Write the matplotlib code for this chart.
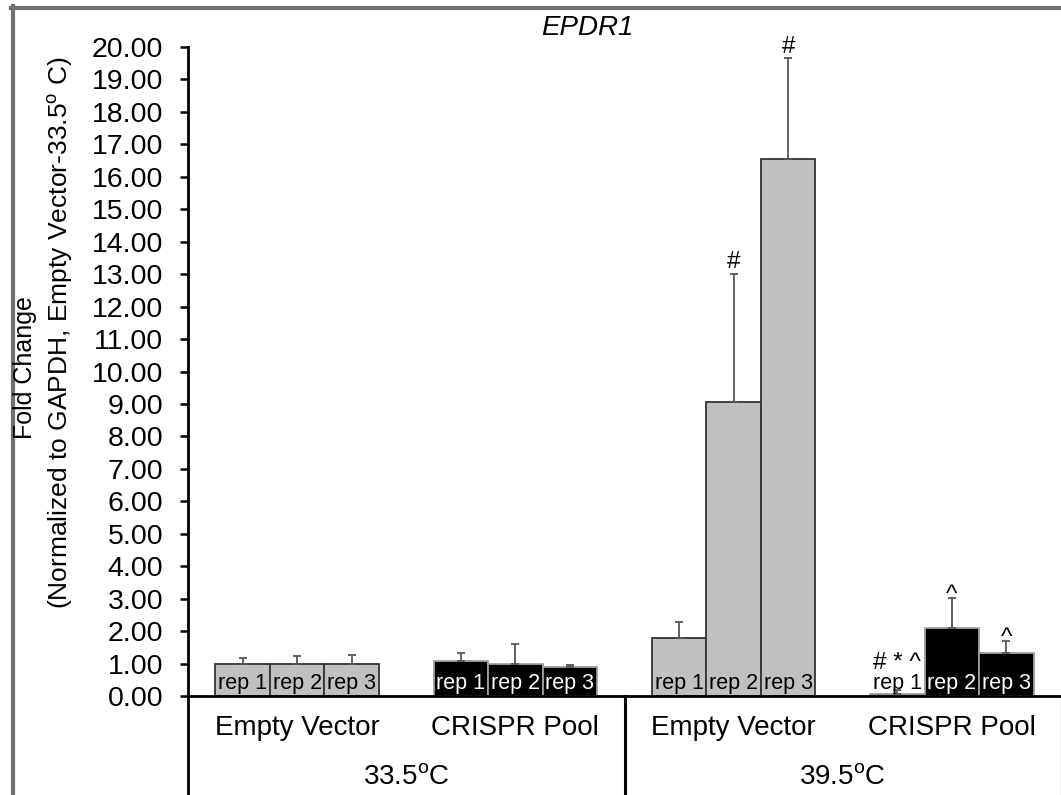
import matplotlib
matplotlib.use("Agg")
import matplotlib.pyplot as plt
from matplotlib.lines import Line2D
import numpy as np

plt.rcParams["font.family"] = ["Liberation Sans", "DejaVu Sans"]
plt.rcParams["mathtext.fontset"] = "custom"
plt.rcParams["mathtext.rm"] = "Liberation Sans"
plt.rcParams["mathtext.it"] = "Liberation Sans:italic"

# --- data -------------------------------------------------------------
groups = ["Empty Vector", "CRISPR Pool", "Empty Vector", "CRISPR Pool"]
temperatures = ["33.5$^{\\mathrm{o}}$C", "39.5$^{\\mathrm{o}}$C"]
replicates = ["rep 1", "rep 2", "rep 3"]

ev_33 = [1.00, 1.00, 1.00]
ev_33_err = [0.18, 0.22, 0.27]
cp_33 = [1.08, 0.98, 0.89]
cp_33_err = [0.25, 0.62, 0.06]
ev_39 = [1.79, 9.06, 16.55]
ev_39_err = [0.49, 3.94, 3.10]
cp_39 = [0.06, 2.10, 1.32]
cp_39_err = [0.12, 0.92, 0.37]

values = [ev_33, cp_33, ev_39, cp_39]
errors = [ev_33_err, cp_33_err, ev_39_err, cp_39_err]
marks = [["", "", ""], ["", "", ""], ["", "#", "#"], ["# * ^", "^", "^"]]
yticks = np.arange(0, 21, 1)

# --- figure -----------------------------------------------------------
W, H = 1061, 795
fig = plt.figure(figsize=(W / 100, H / 100), dpi=100)
ax = fig.add_axes([188 / W, 1 - 696 / H, (W - 188) / W, (696 - 47) / H])

gray_fill = "#c0c0c0"
bar_w = 0.25
offsets = [-0.25, 0.0, 0.25]

for gi, (vals, errs) in enumerate(zip(values, errors)):
    dark = groups[gi] == "CRISPR Pool"
    center = gi + 0.5
    xs = [center + o for o in offsets]
    ax.bar(xs, vals, width=bar_w,
           color="black" if dark else gray_fill,
           edgecolor="#a0a0a0" if dark else "#333333",
           linewidth=1.3, zorder=2)
    ax.errorbar(xs, vals, yerr=[np.zeros(3), errs], fmt="none",
                ecolor="#555555", elinewidth=1.3, capsize=3,
                capthick=1.3, zorder=3)
    for ri, (x, v, e) in enumerate(zip(xs, vals, errs)):
        txt_col = "white" if (dark and v > 0.5) else "black"
        ax.text(x, 0.22, replicates[ri], ha="center", va="baseline",
                fontsize=15.5, color=txt_col, zorder=4)
        m = marks[gi][ri]
        if m:
            top = v + e
            if m == "^":
                y = top - 0.1
            elif m == "#":
                y = top + 0.18
            else:
                y = top + 0.64
            ax.text(x, y, m, ha="center", va="baseline", fontsize=17.5,
                    color="black", zorder=5, clip_on=False)

ax.set_xlim(0, 4)
ax.set_ylim(0, 20)
ax.set_yticks(yticks)
ax.set_yticklabels([f"{t:.2f}" for t in yticks], fontsize=20.5)
ax.set_xticks([])
ax.tick_params(axis="y", direction="out", length=5.8, width=1.8,
               pad=12, color="black")
for side in ("top", "right"):
    ax.spines[side].set_visible(False)
ax.spines["left"].set_linewidth(2)
ax.spines["bottom"].set_linewidth(2)

# category table under the axis
trans = ax.get_xaxis_transform()
for gi, name in enumerate(groups):
    ax.text(gi + 0.5, -(728 - 696) / (696 - 47), name, transform=trans,
            ha="center", va="center", fontsize=20, clip_on=False)
for ti, t in enumerate(temperatures):
    ax.text(2 * ti + 1, -(777 - 696) / (696 - 47), t, transform=trans,
            ha="center", va="center", fontsize=20, clip_on=False)

bottom_ax = -(H - 696) / (696 - 47)
for xv, col, lw in [(0, "black", 2), (2, "black", 2.2), (4, "#bbbbbb", 1)]:
    ax.add_line(Line2D([xv, xv], [0, bottom_ax], transform=trans,
                       color=col, linewidth=lw, clip_on=False))

# titles and axis label
fig.text(587 / W, 1 - 28 / H, "EPDR1", style="italic", fontsize=20,
         ha="center", va="center")
fig.text(25 / W, 1 - 368 / H, "Fold Change", rotation=90, fontsize=18,
         ha="center", va="center")
fig.text(61 / W, 1 - 333 / H,
         "(Normalized to GAPDH, Empty Vector-33.5$^{\\mathrm{o}}$ C)",
         rotation=90, fontsize=19, ha="center", va="center")

# page frame
frame = "#707070"
fig.add_artist(Line2D([13 / W, 13 / W], [0, 1 - 6 / H], transform=fig.transFigure,
                      color=frame, linewidth=3))
fig.add_artist(Line2D([11 / W, 1], [1 - 8 / H, 1 - 8 / H], transform=fig.transFigure,
                      color=frame, linewidth=3))

fig.savefig("out.png", dpi=100)
